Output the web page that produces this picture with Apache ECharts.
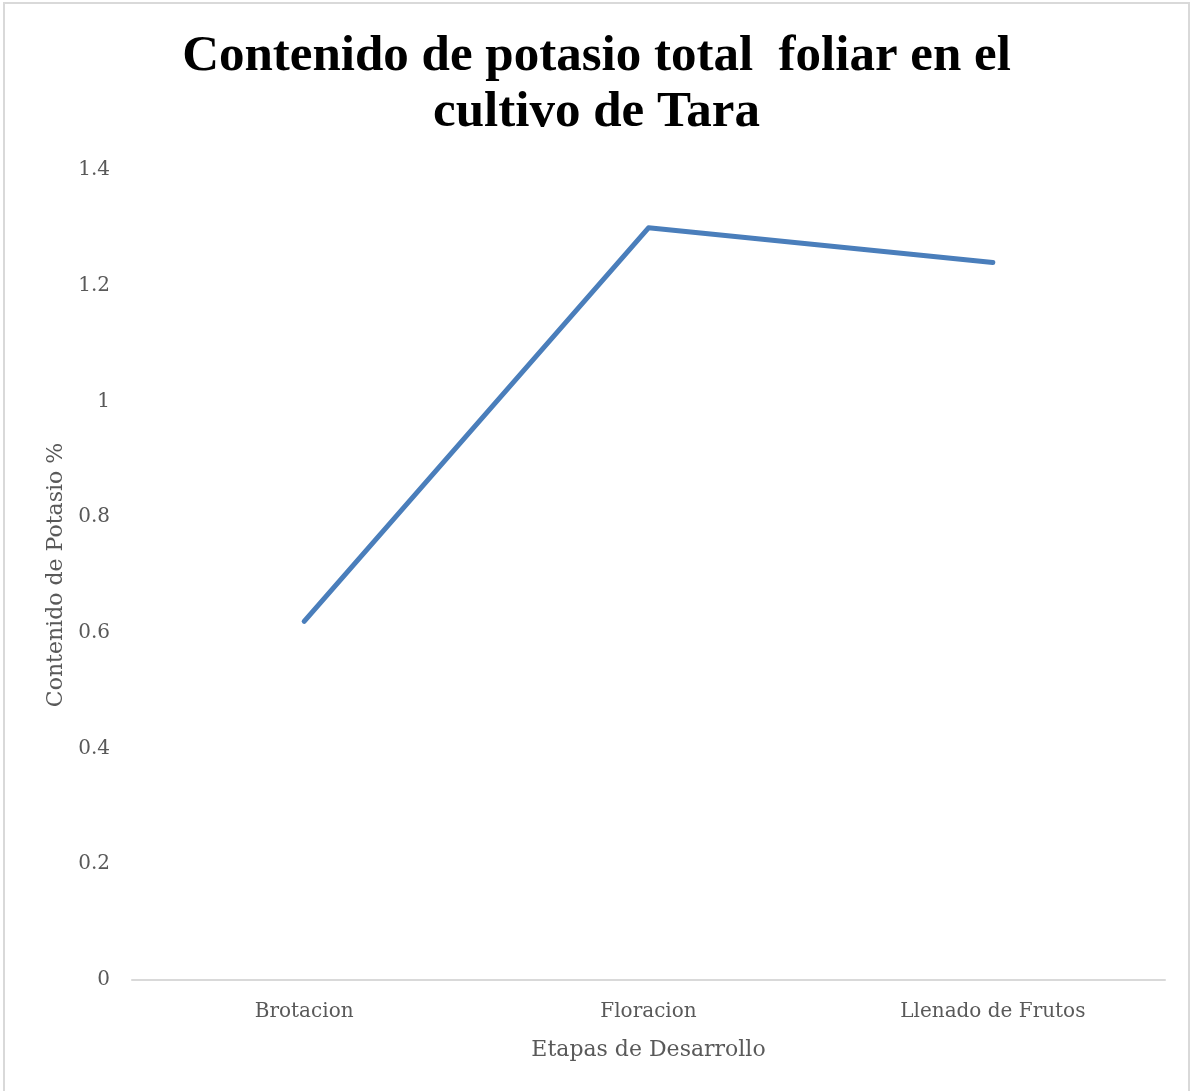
<!DOCTYPE html>
<html>
<head>
<meta charset="utf-8">
<script src="https://cdn.jsdelivr.net/npm/echarts@6/dist/echarts.min.js"></script>
<style>
  html, body { margin: 0; padding: 0; background: #fff; }
  #chart { position: absolute; left: 3px; top: 2px; width: 1187px; height: 1089px; box-sizing: border-box; border: 2px solid #d9d9d9; border-bottom: none; }
</style>
</head>
<body>
<div id="chart"></div>
<script>
// Etapas de desarrollo y contenido de potasio foliar (%)
const etapas = ['Brotacion', 'Floracion', 'Llenado de Frutos'];
const potasio = [0.62, 1.30, 1.24];
const yTicks = { min: 0, max: 1.4, interval: 0.2 };

const titleFont = '"Liberation Serif", serif';
const labelFont = '"DejaVu Serif", "Liberation Serif", serif';
const chart = echarts.init(document.getElementById('chart'));
chart.setOption({
  animation: false,
  title: {
    text: 'Contenido de potasio total  foliar en el\ncultivo de Tara',
    left: 'center',
    top: 20,
    textStyle: { fontFamily: titleFont, fontWeight: 'bold', fontSize: 51, lineHeight: 56, color: '#000' }
  },
  grid: { left: 127, right: 23, top: 166, bottom: 111 },
  xAxis: {
    type: 'category',
    data: etapas,
    boundaryGap: true,
    name: 'Etapas de Desarrollo',
    nameLocation: 'middle',
    nameGap: 59,
    nameTextStyle: { fontFamily: labelFont, fontSize: 22, color: '#595959' },
    axisLine: { lineStyle: { color: '#d9d9d9', width: 2 } },
    axisTick: { show: false },
    axisLabel: { fontFamily: labelFont, fontSize: 20, color: '#595959', margin: 22 }
  },
  yAxis: {
    type: 'value',
    min: yTicks.min,
    max: yTicks.max,
    interval: yTicks.interval,
    name: 'Contenido de Potasio %',
    nameLocation: 'middle',
    nameGap: 62,
    nameTextStyle: { fontFamily: labelFont, fontSize: 22, color: '#595959' },
    splitLine: { show: false },
    axisLine: { show: false },
    axisTick: { show: false },
    axisLabel: { fontFamily: labelFont, fontSize: 20, color: '#595959', margin: 22 }
  },
  series: [{
    type: 'line',
    data: potasio,
    symbol: 'none',
    lineStyle: { color: '#4a7ebb', width: 5, cap: 'round', join: 'round' }
  }]
});
</script>
</body>
</html>
